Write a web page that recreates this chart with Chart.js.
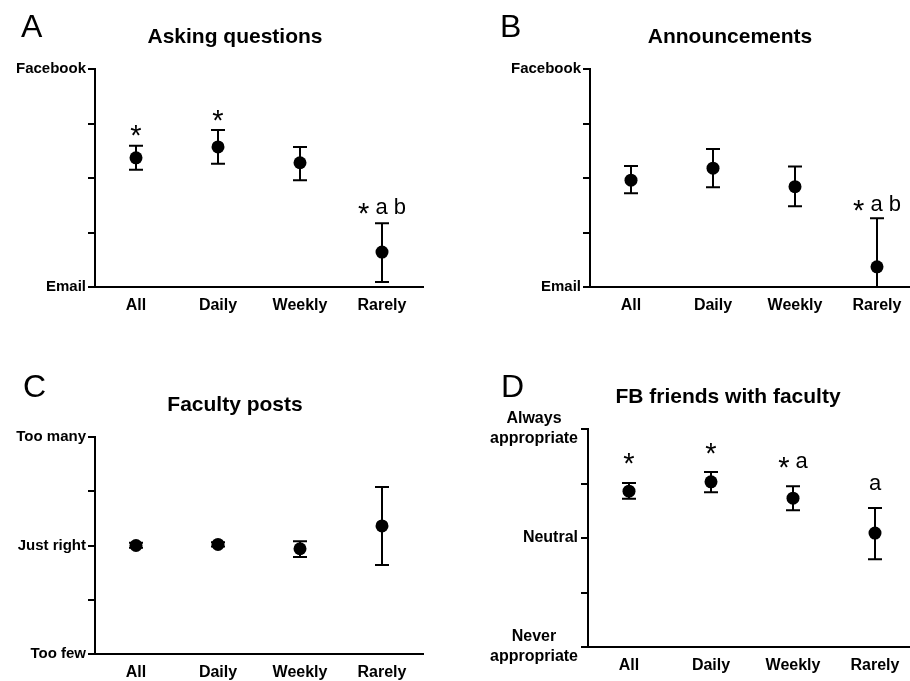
<!DOCTYPE html>
<html>
<head>
<meta charset="utf-8">
<script src="https://cdn.jsdelivr.net/npm/chart.js@4.4.1/dist/chart.umd.min.js"></script>
<style>
  html, body { margin: 0; padding: 0; background: #fff; }
  #wrap { position: relative; width: 910px; height: 681px; overflow: hidden; }
  canvas { position: absolute; }
</style>
</head>
<body>
<div id="wrap">
  <canvas id="panelA" width="455" height="340" style="left:0;top:0"></canvas>
  <canvas id="panelB" width="470" height="340" style="left:455px;top:0"></canvas>
  <canvas id="panelC" width="455" height="341" style="left:0;top:340px"></canvas>
  <canvas id="panelD" width="470" height="341" style="left:455px;top:340px"></canvas>
</div>
<script>
const groups = ['All', 'Daily', 'Weekly', 'Rarely'];

// y ticks run 0..4, only some have a label
const labelsAB = ['Email', '', '', '', 'Facebook'];
const labelsC = ['Too few', '', 'Just right', '', 'Too many'];
const labelsD = [['Never', 'appropriate'], '', ['Neutral'], '', ['Always', 'appropriate']];

const askMean = [2.37, 2.57, 2.28, 0.64];
const askHi = [2.59, 2.88, 2.57, 1.17];
const askLo = [2.15, 2.26, 1.96, 0.09];
const askMarks = ['*', '*', '', '* a b'];

const annMean = [1.96, 2.18, 1.84, 0.37];
const annHi = [2.22, 2.53, 2.21, 1.26];
const annLo = [1.72, 1.83, 1.48, 0.0];
const annMarks = ['', '', '', '* a b'];

const postMean = [2.0, 2.02, 1.94, 2.36];
const postHi = [2.05, 2.06, 2.08, 3.08];
const postLo = [1.96, 1.98, 1.79, 1.64];
const postMarks = ['', '', '', ''];

const friendMean = [2.86, 3.03, 2.73, 2.09];
const friendHi = [3.01, 3.21, 2.95, 2.55];
const friendLo = [2.72, 2.84, 2.51, 1.61];
const friendMarks = ['*', '*', '* a', 'a'];

const FONT = '"Liberation Sans", Arial, Helvetica, sans-serif';

const errorBars = {
    id: 'errorBars',
    beforeDatasetsDraw(chart) {
        const ds = chart.data.datasets[0];
        const y = chart.scales.y;
        const ctx = chart.ctx;
        ctx.save();
        ctx.strokeStyle = '#000';
        ctx.lineWidth = 2;
        chart.getDatasetMeta(0).data.forEach((pt, i) => {
            const top = y.getPixelForValue(ds.errHi[i]);
            const bot = y.getPixelForValue(ds.errLo[i]);
            ctx.beginPath();
            ctx.moveTo(pt.x, top); ctx.lineTo(pt.x, bot);
            ctx.moveTo(pt.x - 7, top); ctx.lineTo(pt.x + 7, top);
            ctx.moveTo(pt.x - 7, bot); ctx.lineTo(pt.x + 7, bot);
            ctx.stroke();
        });
        ctx.restore();
    }
};

function drawMark(ctx, text, cx, cy) {
    const letterFont = '22px ' + FONT;
    const starFont = '29px ' + FONT;
    const chars = [...text];
    const widths = chars.map(ch => {
        ctx.font = ch === '*' ? starFont : letterFont;
        return ctx.measureText(ch).width;
    });
    let x = cx - widths.reduce((a, b) => a + b, 0) / 2;
    ctx.font = letterFont;
    const am = ctx.measureText('a');
    const letterShift = (am.actualBoundingBoxAscent - am.actualBoundingBoxDescent) / 2;
    chars.forEach((ch, i) => {
        if (ch === '*') {
            ctx.font = starFont;
            const m = ctx.measureText('*');
            ctx.fillText(ch, x, cy + (m.actualBoundingBoxAscent - m.actualBoundingBoxDescent) / 2);
        } else if (ch !== ' ') {
            ctx.font = letterFont;
            ctx.fillText(ch, x, cy + letterShift);
        }
        x += widths[i];
    });
}

function decor(p) {
    return {
        id: 'decor',
        afterDraw(chart) {
            const ctx = chart.ctx;
            const area = chart.chartArea;
            const y = chart.scales.y;
            ctx.save();
            ctx.fillStyle = '#000';
            ctx.textAlign = 'left';
            ctx.textBaseline = 'alphabetic';
            ctx.font = '32px ' + FONT;
            ctx.fillText(p.letter, p.letterX, p.letterY);
            ctx.textAlign = 'center';
            ctx.font = 'bold 21px ' + FONT;
            ctx.fillText(p.title, area.left + 140, area.top - 26);

            // significance marks above the upper error bar
            const ds = chart.data.datasets[0];
            ctx.textAlign = 'left';
            chart.getDatasetMeta(0).data.forEach((pt, i) => {
                if (!p.marks[i]) return;
                drawMark(ctx, p.marks[i], pt.x, y.getPixelForValue(ds.errHi[i]) - p.markGap);
            });

            // multi-line tick labels: block right aligned, lines centred
            if (p.blockLabels) {
                ctx.font = 'bold 16px ' + FONT;
                ctx.textBaseline = 'middle';
                ctx.textAlign = 'center';
                p.blockLabels.forEach((lines, v) => {
                    if (!lines) return;
                    const w = Math.max(...lines.map(l => ctx.measureText(l).width));
                    const cx = area.left - 10 - w / 2;
                    const py = y.getPixelForValue(v);
                    lines.forEach((l, k) => {
                        ctx.fillText(l, cx, py + (k - (lines.length - 1) / 2) * 20);
                    });
                });
            }
            ctx.restore();
        }
    };
}

function makePanel(id, p) {
    return new Chart(document.getElementById(id), {
        type: 'line',
        data: {
            labels: groups,
            datasets: [{
                data: p.mean,
                errHi: p.hi,
                errLo: p.lo,
                showLine: false,
                pointRadius: 6.5,
                pointBackgroundColor: '#000',
                pointBorderWidth: 0
            }]
        },
        options: {
            responsive: false,
            animation: false,
            events: [],
            layout: { padding: { top: p.top, right: p.right, left: 0, bottom: 0 } },
            plugins: { legend: { display: false }, tooltip: { enabled: false } },
            scales: {
                x: {
                    offset: true,
                    grid: { display: false },
                    border: { color: '#000', width: 2 },
                    ticks: { color: '#000', font: { family: FONT, size: 16, weight: 'bold' }, padding: 1 },
                    afterFit: s => { s.height = p.xH; }
                },
                y: {
                    min: 0,
                    max: 4,
                    grid: { drawOnChartArea: false, drawTicks: true, tickLength: 7, color: '#000', lineWidth: 2 },
                    border: { color: '#000', width: 2 },
                    ticks: {
                        stepSize: 1,
                        color: '#000',
                        padding: 2,
                        font: { family: FONT, size: 15, weight: 'bold' },
                        callback: v => p.blockLabels ? '' : p.yLabels[v]
                    },
                    afterFit: s => { s.width = p.yW; }
                }
            }
        },
        plugins: [errorBars, decor(p)]
    });
}

makePanel('panelA', {
    mean: askMean, hi: askHi, lo: askLo, marks: askMarks, yLabels: labelsAB,
    title: 'Asking questions', letter: 'A', letterX: 21, letterY: 37,
    top: 69, right: 32, yW: 95, xH: 53, markGap: 15
});
makePanel('panelB', {
    mean: annMean, hi: annHi, lo: annLo, marks: annMarks, yLabels: labelsAB,
    title: 'Announcements', letter: 'B', letterX: 45, letterY: 37,
    top: 69, right: 7, yW: 135, xH: 53, markGap: 13
});
makePanel('panelC', {
    mean: postMean, hi: postHi, lo: postLo, marks: postMarks, yLabels: labelsC,
    title: 'Faculty posts', letter: 'C', letterX: 23, letterY: 57,
    top: 97, right: 32, yW: 95, xH: 27, markGap: 15
});
makePanel('panelD', {
    mean: friendMean, hi: friendHi, lo: friendLo, marks: friendMarks, blockLabels: labelsD,
    title: 'FB friends with faculty', letter: 'D', letterX: 46, letterY: 57,
    top: 89, right: 9, yW: 133, xH: 34, markGap: 24
});
</script>
</body>
</html>
